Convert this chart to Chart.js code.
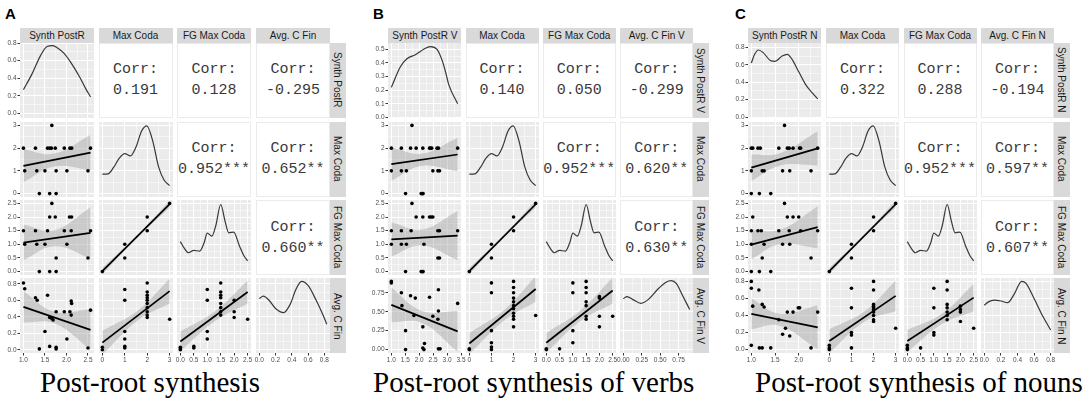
<!DOCTYPE html>
<html>
<head>
<meta charset="utf-8">
<script src="https://cdn.jsdelivr.net/npm/chart.js@4.4.1/dist/chart.umd.min.js"></script>
<style>
  body { margin: 0; background: #fff; width: 1084px; height: 402px; overflow: hidden; position: relative;
         font-family: "Liberation Sans", Arial, sans-serif; }
  canvas { position: absolute; }
  .strip { position: absolute; background: #D9D9D9; color: #1A1A1A; font-size: 10px; display: flex;
           align-items: center; justify-content: center; white-space: nowrap; }
  .strip.r { writing-mode: vertical-rl; }
  .upper { position: absolute; box-sizing: border-box; border: 1px solid #EBEBEB; background: #fff;
           display: flex; flex-direction: column; align-items: center; justify-content: center;
           font-family: "Liberation Mono", monospace; font-size: 15px; line-height: 21px; color: #3A3A3A; white-space: pre; }
  .tag { position: absolute; font-weight: bold; font-size: 15px; line-height: 15px; }
  .cap { position: absolute; font-family: "Liberation Serif", "Times New Roman", serif; font-size: 29px;
         line-height: 29px; white-space: nowrap; color: #000; }
</style>
</head>
<body>
<script>
// variable names (strips) and correlations (upper cells: 1-2, 1-3, 1-4, 2-3, 2-4, 3-4)
const namesA = ['Synth PostR', 'Max Coda', 'FG Max Coda', 'Avg. C Fin'];
const namesB = ['Synth PostR V', 'Max Coda', 'FG Max Coda', 'Avg. C Fin V'];
const namesC = ['Synth PostR N', 'Max Coda', 'FG Max Coda', 'Avg. C Fin N'];
const corrA = ['0.191', '0.128', '-0.295', '0.952***', '0.652**', '0.660**'];
const corrB = ['0.140', '0.050', '-0.299', '0.952***', '0.620**', '0.630**'];
const corrC = ['0.322', '0.288', '-0.194', '0.952***', '0.597**', '0.607**'];
const captions = ['Post-root synthesis', 'Post-root synthesis of verbs', 'Post-root synthesis of nouns'];

// tick labels and axis limits
const ticksSynthA = ['1.0', '1.5', '2.0', '2.5'];
const ticksSynthB = ['1.0', '1.5', '2.0', '2.5', '3.0', '3.5'];
const ticksSynthC = ['1.0', '1.5', '2.0'];
const ticksCoda = ['0', '1', '2', '3'];
const ticksFG = ['0.0', '0.5', '1.0', '1.5', '2.0', '2.5'];
const ticksAvgA = ['0.0', '0.2', '0.4', '0.6', '0.8'];
const ticksAvgB = ['0.00', '0.25', '0.50', '0.75'];
const ticksAvgC = ['0.0', '0.2', '0.4', '0.6', '0.8'];
const ticksDensA = ['0.0', '0.2', '0.4', '0.6', '0.8'];
const ticksDensB = ['0.0', '0.1', '0.2', '0.3', '0.4', '0.5'];
const ticksDensC = ['0.0', '0.2', '0.4', '0.6', '0.8'];

const rangeSynthA = [0.92, 2.64];
const rangeSynthB = [0.88, 3.5];
const rangeSynthC = [0.93, 2.47];
const rangeCoda = [-0.15, 3.15];
const rangeFG = [-0.125, 2.625];
const rangeAvgA = [-0.04, 0.87];
const rangeAvgB = [-0.045, 0.945];
const rangeAvgC = [-0.04, 0.84];
const rangeDensA = [-0.05, 0.8];
const rangeDensB = [-0.005, 0.546];
const rangeDensC = [-0.01, 0.85];

// densities on the diagonal [x, y] (y in the row's units)
const densA11 = [[1.0,0.27],[1.2,0.45],[1.4,0.66],[1.55,0.76],[1.68,0.77],[1.8,0.74],[1.95,0.68],[2.1,0.58],[2.3,0.42],[2.45,0.28],[2.56,0.19]];
const densB11 = [[1.0,0.22],[1.32,0.37],[1.56,0.43],[1.86,0.46],[2.16,0.5],[2.4,0.52],[2.64,0.5],[2.82,0.42],[2.95,0.33],[3.06,0.24],[3.38,0.1]];
const densC11 = [[1.0,0.62],[1.07,0.72],[1.15,0.77],[1.25,0.74],[1.4,0.65],[1.5,0.64],[1.65,0.7],[1.76,0.72],[1.85,0.67],[2.0,0.52],[2.15,0.37],[2.3,0.27],[2.4,0.21]];
const densCoda = [[0,0.86],[0.25,0.87],[0.5,1.15],[0.75,1.55],[1.0,1.76],[1.25,1.66],[1.5,2.05],[1.75,2.75],[1.98,2.98],[2.25,2.3],[2.5,1.2],[2.75,0.6],[3.0,0.35]];
const densFG = [[0,1.1],[0.15,0.85],[0.3,0.69],[0.5,0.78],[0.72,0.75],[0.88,1.05],[1.0,1.41],[1.17,1.3],[1.32,1.7],[1.5,2.46],[1.66,1.85],[1.8,1.42],[1.98,1.45],[2.2,0.93],[2.35,0.6],[2.5,0.39]];
const densA44 = [[0.0,0.62],[0.05,0.65],[0.12,0.6],[0.2,0.5],[0.3,0.45],[0.38,0.55],[0.45,0.73],[0.52,0.83],[0.6,0.78],[0.7,0.6],[0.78,0.43],[0.83,0.31]];
const densB44 = [[0.0,0.67],[0.05,0.7],[0.13,0.66],[0.24,0.61],[0.35,0.67],[0.47,0.8],[0.58,0.89],[0.65,0.91],[0.72,0.87],[0.8,0.72],[0.9,0.53]];
const densC44 = [[0.0,0.52],[0.05,0.56],[0.12,0.58],[0.2,0.57],[0.28,0.55],[0.36,0.65],[0.45,0.8],[0.5,0.78],[0.6,0.6],[0.7,0.4],[0.8,0.23]];

// scatter points [x, y]
const ptsA21 = [[1.66,3],[1.0,2],[1.28,2],[1.56,2],[1.61,2],[1.65,2],[1.74,2],[1.95,2],[2.08,2],[2.12,2],[2.56,2],
  [1.03,1],[1.31,1],[1.5,1],[1.76,1],[2.01,1],[2.5,1],[1.37,0],[1.61,0],[1.76,0]];
const ptsA31 = [[1.66,2.5],[1.61,2],[1.74,2],[2.07,2],[2.12,2],[1.0,1.5],[1.28,1.5],[1.56,1.5],[1.95,1.5],[2.11,1.5],[2.56,1.5],
  [1.03,1],[1.31,1],[1.5,1],[2.01,1],[1.76,0.5],[2.5,0.5],[1.37,0],[1.61,0],[1.76,0]];
const ptsA41 = [[1.0,0.81],[1.03,0.74],[1.28,0.63],[1.32,0.6],[1.56,0.66],[1.61,0.39],[1.66,0.38],[1.69,0.36],[1.76,0.46],
  [1.5,0.22],[1.37,0.01],[1.61,0.04],[1.76,0.03],[1.76,0.01],[1.95,0.46],[2.01,0.13],[2.11,0.59],[2.12,0.56],[2.08,0.46],
  [2.11,0.42],[2.5,0.02],[2.56,0.48]];
const ptsCodaFG = [[0,0],[1,1],[1,0.5],[2,2],[2,1.5],[3,2.5]];
const ptsA42 = [[0,0.03],[0,0.0],[1,0.73],[1,0.6],[1,0.22],[1,0.13],[1,0.04],[1,0.02],[2,0.81],[2,0.7],[2,0.66],[2,0.63],
  [2,0.6],[2,0.56],[2,0.51],[2,0.46],[2,0.42],[2,0.39],[3,0.37]];
const ptsA43 = [[0,0.03],[0,0.01],[0,0.0],[0.5,0.04],[0.5,0.02],[1,0.73],[1,0.6],[1,0.22],[1,0.13],[1.5,0.81],[1.5,0.7],
  [1.5,0.66],[1.5,0.63],[1.5,0.56],[1.5,0.51],[1.5,0.46],[1.5,0.42],[2,0.6],[2,0.46],[2,0.39],[2.5,0.37]];

const ptsB21 = [[1.74,3],[1.0,2],[1.36,2],[1.69,2],[1.89,2],[2.13,2],[2.37,2],[2.4,2],[2.45,2],[2.64,2],[2.69,2],[3.38,2],
  [1.0,1],[1.36,1],[1.54,1],[2.49,1],[2.67,1],[2.73,1],[1.51,0],[2.07,0],[2.11,0],[2.14,0]];
const ptsB31 = [[1.74,2.5],[1.89,2],[2.13,2],[2.37,2],[2.43,2],[2.49,2],[1.0,1.5],[1.36,1.5],[1.71,1.5],[2.67,1.5],[2.73,1.5],
  [3.38,1.5],[1.0,1],[1.36,1],[1.54,1],[2.17,1],[2.67,0.5],[2.73,0.5],[1.51,0],[2.07,0],[2.11,0],[2.14,0]];
const ptsB41 = [[1.0,0.9],[1.0,0.88],[1.36,0.75],[1.38,0.58],[1.69,0.71],[1.86,0.68],[1.81,0.45],[1.51,0.25],[1.51,0.0],
  [2.37,0.69],[2.13,0.3],[2.19,0.08],[2.13,0.02],[2.17,0.0],[2.49,0.44],[2.69,0.51],[2.69,0.79],[2.67,0.4],[2.69,0.01],
  [2.75,0.01],[3.38,0.61]];
const ptsB42 = [[0,0.0],[0,0.01],[1,0.88],[1,0.75],[1,0.25],[1,0.09],[1,0.035],[1,0.0],[2,0.9],[2,0.82],[2,0.75],[2,0.68],
  [2,0.63],[2,0.58],[2,0.54],[2,0.48],[2,0.44],[2,0.4],[2,0.3],[3,0.45]];
const ptsB43 = [[0,0.0],[0,0.01],[0.5,0.01],[1,0.88],[1,0.75],[1,0.25],[1,0.09],[1.5,0.9],[1.5,0.82],[1.5,0.75],[1.5,0.63],
  [1.5,0.58],[1.5,0.44],[1.5,0.4],[2,0.7],[2,0.68],[2,0.44],[2,0.3],[2.5,0.44]];

const ptsC21 = [[1.7,3],[1.0,2],[1.03,2],[1.14,2],[1.19,2],[1.58,2],[1.76,2],[1.8,2],[1.88,2],[2.02,2],[2.04,2],[2.4,2],
  [1.0,1],[1.23,1],[1.27,1],[1.66,1],[1.81,1],[2.26,1],[1.0,0],[1.17,0],[1.41,0]];
const ptsC31 = [[1.7,2.5],[1.03,2],[1.76,2],[1.88,2],[2.0,2],[1.0,1.5],[1.14,1.5],[1.21,1.5],[1.58,1.5],[1.8,1.5],[2.04,1.5],
  [2.4,1.5],[1.0,1],[1.27,1],[1.66,1],[1.81,1],[1.23,0.5],[2.26,0.5],[1.0,0],[1.17,0],[1.41,0]];
const ptsC41 = [[1.0,0.8],[1.0,0.72],[1.03,0.51],[1.16,0.7],[1.0,0.05],[1.23,0.53],[1.27,0.5],[1.17,0.02],[1.23,0.02],
  [1.41,0.02],[1.58,0.35],[1.66,0.18],[1.72,0.25],[1.81,0.16],[1.76,0.44],[1.88,0.44],[1.99,0.49],[2.02,0.49],[2.26,0.02],[2.4,0.44]];
const ptsC42 = [[0,0.0],[0,0.02],[0,0.05],[1,0.72],[1,0.49],[1,0.2],[1,0.17],[1,0.02],[2,0.8],[2,0.7],[2,0.53],[2,0.51],
  [2,0.49],[2,0.47],[2,0.44],[2,0.4],[2,0.35],[2,0.33],[3,0.25]];
const ptsC43 = [[0,0.0],[0,0.02],[0,0.05],[0.5,0.02],[1,0.72],[1,0.49],[1,0.2],[1,0.17],[1.5,0.8],[1.5,0.7],[1.5,0.53],
  [1.5,0.49],[1.5,0.44],[1.5,0.4],[1.5,0.35],[2,0.51],[2,0.47],[2,0.44],[2,0.33],[2.5,0.25]];

// fitted lines [x, y] and confidence bands [x, low, high]
const lineA21 = [[1.0,1.22],[2.56,1.8]];   const bandA21 = [[1.0,0.5,1.94],[1.72,1.19,1.76],[2.56,1.02,2.58]];
const lineA31 = [[1.0,1.06],[2.56,1.42]];  const bandA31 = [[1.0,0.42,1.72],[1.72,0.93,1.52],[2.56,0.48,2.36]];
const lineA41 = [[1.0,0.52],[2.56,0.24]];  const bandA41 = [[1.0,0.33,0.71],[1.72,0.32,0.46],[2.56,0.0,0.49]];
const lineCodaFG = [[0,0.02],[3,2.47]];    const bandCodaFG = [[0,-0.1,0.14],[1.5,1.2,1.29],[3,2.35,2.6]];
const lineA42 = [[0,0.085],[3,0.71]];      const bandA42 = [[0,-0.06,0.23],[1.6,0.36,0.48],[3,0.56,0.86]];
const lineA43 = [[0,0.1],[2.5,0.7]];       const bandA43 = [[0,-0.02,0.22],[1.3,0.35,0.47],[2.5,0.56,0.84]];

const lineB21 = [[1.0,1.3],[3.38,1.72]];   const bandB21 = [[1.0,0.56,2.04],[2.1,1.22,1.76],[3.38,0.98,2.46]];
const lineB31 = [[1.0,1.18],[3.38,1.32]];  const bandB31 = [[1.0,0.55,1.81],[2.1,0.96,1.54],[3.38,0.42,2.22]];
const lineB41 = [[1.0,0.59],[3.38,0.24]];  const bandB41 = [[1.0,0.36,0.82],[2.1,0.35,0.51],[3.38,-0.03,0.51]];
const lineB42 = [[0,0.08],[3,0.8]];        const bandB42 = [[0,-0.06,0.22],[1.6,0.39,0.53],[3,0.63,0.97]];
const lineB43 = [[0,0.09],[2.5,0.78]];     const bandB43 = [[0,-0.04,0.22],[1.3,0.38,0.52],[2.5,0.61,0.95]];

const lineC21 = [[1.0,1.14],[2.4,1.99]];   const bandC21 = [[1.0,0.56,1.72],[1.6,1.23,1.77],[2.4,1.24,2.74]];
const lineC31 = [[1.0,0.99],[2.4,1.63]];   const bandC31 = [[1.0,0.45,1.53],[1.6,1.0,1.53],[2.4,0.86,2.4]];
const lineC41 = [[1.0,0.42],[2.4,0.26]];   const bandC41 = [[1.0,0.24,0.6],[1.6,0.28,0.42],[2.4,0.0,0.52]];
const lineC42 = [[0,0.1],[3,0.63]];        const bandC42 = [[0,-0.04,0.24],[1.6,0.33,0.45],[3,0.45,0.81]];
const lineC43 = [[0,0.1],[2.5,0.61]];      const bandC43 = [[0,-0.03,0.23],[1.3,0.3,0.42],[2.5,0.45,0.77]];

// ---------------------------------------------------------------- layout
const ROWS = [42.7, 121.7, 200, 278.3];
const CELL_H = 75;
const STRIP_TOP = 28.3, STRIP_H = 14.4, STRIP_W = 15.5;
const AXIS_W = 22, AXIS_H = 12, M = 6;

const panels = [
  { tag: 'A', tagX: 5, colX: [20, 98.5, 177, 256], w: 74, capX: 40, caption: captions[0],
    names: namesA, corr: corrA,
    ranges: [rangeSynthA, rangeCoda, rangeFG, rangeAvgA], ticks: [ticksSynthA, ticksCoda, ticksFG, ticksAvgA],
    densRange: rangeDensA, densTicks: ticksDensA,
    dens: [densA11, densCoda, densFG, densA44],
    lower: { '1,0': [ptsA21, lineA21, bandA21], '2,0': [ptsA31, lineA31, bandA31], '3,0': [ptsA41, lineA41, bandA41],
             '2,1': [ptsCodaFG, lineCodaFG, bandCodaFG], '3,1': [ptsA42, lineA42, bandA42], '3,2': [ptsA43, lineA43, bandA43] } },
  { tag: 'B', tagX: 373, colX: [388.3, 465.5, 542.7, 620.2], w: 73, capX: 373, caption: captions[1],
    names: namesB, corr: corrB,
    ranges: [rangeSynthB, rangeCoda, rangeFG, rangeAvgB], ticks: [ticksSynthB, ticksCoda, ticksFG, ticksAvgB],
    densRange: rangeDensB, densTicks: ticksDensB,
    dens: [densB11, densCoda, densFG, densB44],
    lower: { '1,0': [ptsB21, lineB21, bandB21], '2,0': [ptsB31, lineB31, bandB31], '3,0': [ptsB41, lineB41, bandB41],
             '2,1': [ptsCodaFG, lineCodaFG, bandCodaFG], '3,1': [ptsB42, lineB42, bandB42], '3,2': [ptsB43, lineB43, bandB43] } },
  { tag: 'C', tagX: 735, colX: [748.3, 826, 903.5, 981], w: 73, capX: 755, caption: captions[2],
    names: namesC, corr: corrC,
    ranges: [rangeSynthC, rangeCoda, rangeFG, rangeAvgC], ticks: [ticksSynthC, ticksCoda, ticksFG, ticksAvgC],
    densRange: rangeDensC, densTicks: ticksDensC,
    dens: [densC11, densCoda, densFG, densC44],
    lower: { '1,0': [ptsC21, lineC21, bandC21], '2,0': [ptsC31, lineC31, bandC31], '3,0': [ptsC41, lineC41, bandC41],
             '2,1': [ptsCodaFG, lineCodaFG, bandCodaFG], '3,1': [ptsC42, lineC42, bandC42], '3,2': [ptsC43, lineC43, bandC43] } }
];
const upperPairs = [[0,1],[0,2],[0,3],[1,2],[1,3],[2,3]];

// grey panel background, like ggplot's theme_grey
Chart.register({
  id: 'panelBg',
  beforeDraw(chart) {
    const a = chart.chartArea, ctx = chart.ctx;
    ctx.save();
    ctx.fillStyle = '#EBEBEB';
    ctx.fillRect(a.left, a.top, a.right - a.left, a.bottom - a.top);
    ctx.restore();
  }
});

function scaleOpts(range, tickStrs, horizontal, size, showLabels) {
  const labels = {};
  tickStrs.forEach(s => { labels[Number(s).toFixed(4)] = s; });
  const first = Number(tickStrs[0]);
  const half = (Number(tickStrs[1]) - first) / 2;
  const values = [];
  for (let k = -1; first + k * half <= range[1] + 1e-9; k++) {
    const v = +(first + k * half).toFixed(4);
    if (v >= range[0] - 1e-9) values.push(v);
  }
  const isMajor = v => labels[Number(v).toFixed(4)] !== undefined;
  return {
    type: 'linear',
    position: horizontal ? 'bottom' : 'left',
    min: range[0], max: range[1],
    afterBuildTicks: s => { s.ticks = values.map(v => ({ value: v })); },
    afterFit: s => {
      if (horizontal) s.height = size; else s.width = size;
      s.paddingLeft = s.paddingRight = s.paddingTop = s.paddingBottom = 0;
    },
    border: { display: false },
    grid: {
      color: '#FFFFFF',
      lineWidth: c => (c.tick && isMajor(c.tick.value)) ? 1 : 0.5,
      drawTicks: showLabels,
      tickLength: 2.5,
      tickWidth: 1,
      tickColor: c => (c.tick && isMajor(c.tick.value)) ? '#333333' : 'rgba(0,0,0,0)'
    },
    ticks: {
      display: showLabels, autoSkip: false, maxRotation: 0, minRotation: 0, padding: 1,
      color: '#4D4D4D', font: { size: 6.5, family: 'Liberation Sans' },
      callback: v => labels[Number(v).toFixed(4)] || ''
    }
  };
}

const xy = arr => arr.map(([x, y]) => ({ x, y }));

function addChart(p, r, c) {
  const left = c === 0 ? AXIS_W : 0;
  const bottom = r === 3 ? AXIS_H : 0;
  const cv = document.createElement('canvas');
  cv.width = Math.round(p.w + left + 2 * M);
  cv.height = Math.round(CELL_H + bottom + 2 * M);
  cv.style.left = (p.colX[c] - left - M) + 'px';
  cv.style.top = (ROWS[r] - M) + 'px';
  document.body.appendChild(cv);

  const yRange = r === 0 ? p.densRange : p.ranges[r];
  const yTicks = r === 0 ? p.densTicks : p.ticks[r];
  let datasets;
  if (r === c) {
    datasets = [{
      data: xy(p.dens[c]), borderColor: '#383838', borderWidth: 1.2, pointRadius: 0,
      cubicInterpolationMode: 'monotone', fill: false
    }];
  } else {
    const [pts, line, band] = p.lower[r + ',' + c];
    datasets = [
      { data: xy(pts), showLine: false, pointRadius: 1.8, pointBackgroundColor: '#000', pointBorderWidth: 0, order: 0 },
      { data: xy(line), borderColor: '#000', borderWidth: 1.7, pointRadius: 0, order: 1 },
      { data: band.map(b => ({ x: b[0], y: b[1] })), borderWidth: 0, pointRadius: 0, tension: 0.4, fill: false, order: 2 },
      { data: band.map(b => ({ x: b[0], y: b[2] })), borderWidth: 0, pointRadius: 0, tension: 0.4,
        fill: '-1', backgroundColor: 'rgba(153,153,153,0.4)', order: 3 }
    ];
  }

  new Chart(cv.getContext('2d'), {
    type: 'line',
    data: { datasets },
    options: {
      responsive: false, animation: false, events: [],
      layout: { padding: M },
      plugins: { legend: { display: false }, tooltip: { enabled: false } },
      scales: {
        x: scaleOpts(p.ranges[c], p.ticks[c], true, bottom, r === 3),
        y: scaleOpts(yRange, yTicks, false, left, c === 0)
      }
    }
  });
}

function addDiv(cls, x, y, w, h, html) {
  const d = document.createElement('div');
  d.className = cls;
  d.style.left = x + 'px'; d.style.top = y + 'px';
  if (w !== null) d.style.width = w + 'px';
  if (h !== null) d.style.height = h + 'px';
  d.innerHTML = html;
  document.body.appendChild(d);
  return d;
}

panels.forEach(p => {
  addDiv('tag', p.tagX, 5.8, null, null, p.tag);
  addDiv('cap', p.capX, 367.7, null, null, p.caption);
  for (let i = 0; i < 4; i++) {
    addDiv('strip', p.colX[i], STRIP_TOP, p.w, STRIP_H, p.names[i]);
    addDiv('strip r', p.colX[3] + p.w, ROWS[i], STRIP_W, CELL_H, p.names[i]);
  }
  upperPairs.forEach(([r, c], k) => {
    addDiv('upper', p.colX[c], ROWS[r], p.w, CELL_H, '<div>Corr:</div><div>' + p.corr[k] + '</div>');
  });
  for (let r = 0; r < 4; r++) {
    for (let c = 0; c <= r; c++) addChart(p, r, c);
  }
});
</script>
</body>
</html>
